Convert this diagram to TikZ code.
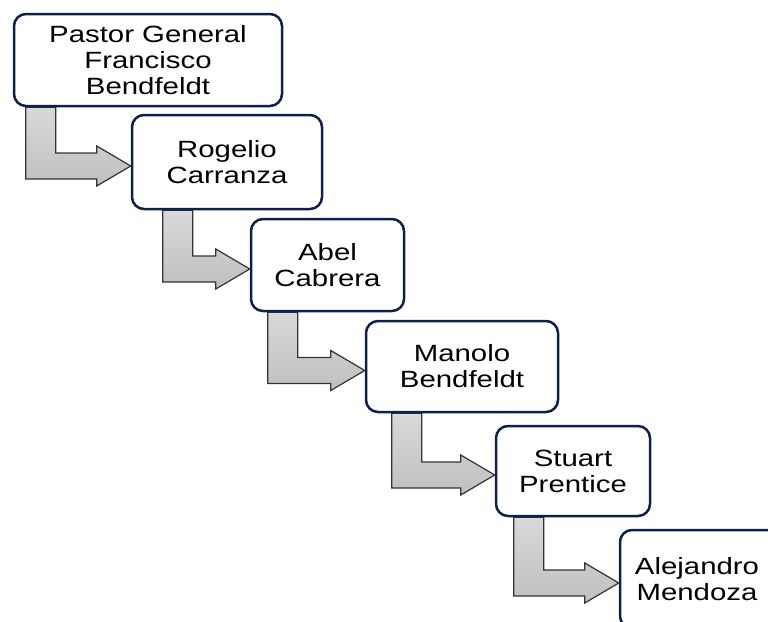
\documentclass[tikz,border=0pt]{standalone}
\usepackage{fontspec}
\setmainfont[FakeStretch=1.25]{Liberation Sans}
\usetikzlibrary{calc}
\usetikzlibrary{backgrounds}
\definecolor{marino}{RGB}{16,32,74}

% flecha doblada de #1 a #2, con el tallo a #3 de la punta
\newcommand{\flecha}[3]{%
\draw[flechita] let \p1=(#2.west), \p2=(#1.south) in
 (\x1-#3pt,\y2) -- (\x1-#3pt+30pt,\y2) -- (\x1-#3pt+30pt,\y1+9pt) -- (\x1-34pt,\y1+9pt)
 -- (\x1-34pt,\y1+16pt) -- (\x1,\y1-4pt) -- (\x1-34pt,\y1-24pt) -- (\x1-34pt,\y1-17pt)
 -- (\x1-#3pt,\y1-17pt) -- cycle;}

\begin{document}
\begin{tikzpicture}[x=1pt,y=-1pt,
puesto/.style={rectangle,rounded corners=12pt,draw=marino,line width=2.5pt,fill=white,
 align=center,inner sep=0pt,font=\fontsize{23.5}{26}\selectfont},
flechita/.style={draw=black!80,line width=1.2pt,top color=gray!30,bottom color=gray!50}]

\useasboundingbox (0,0) rectangle (768,621);

\node[puesto,minimum width=268pt,minimum height=92pt](pastor) at (148,60){Pastor General\\Francisco\\Bendfeldt};
\node[puesto,minimum width=190pt,minimum height=94pt](rogelio) at (227,162){Rogelio\\Carranza};
\node[puesto,minimum width=153pt,minimum height=92pt](abel) at (327.5,265){Abel\\Cabrera};
\node[puesto,minimum width=192pt,minimum height=91pt](manolo) at (462,366.5){Manolo\\Bendfeldt};
\node[puesto,minimum width=154pt,minimum height=90pt](stuart) at (573,471){Stuart\\Prentice};
% la caja se sale por la derecha y por abajo
\node[puesto,minimum width=166pt,minimum height=98pt](alejandro) at (703,579){\hspace*{-12pt}Alejandro\\\hspace*{-12pt}Mendoza};

\begin{scope}[on background layer]
\foreach \a/\b/\d in {pastor/rogelio/105, rogelio/abel/87, abel/manolo/97, manolo/stuart/103, stuart/alejandro/105}
  \flecha{\a}{\b}{\d};
\end{scope}

\end{tikzpicture}
\end{document}
